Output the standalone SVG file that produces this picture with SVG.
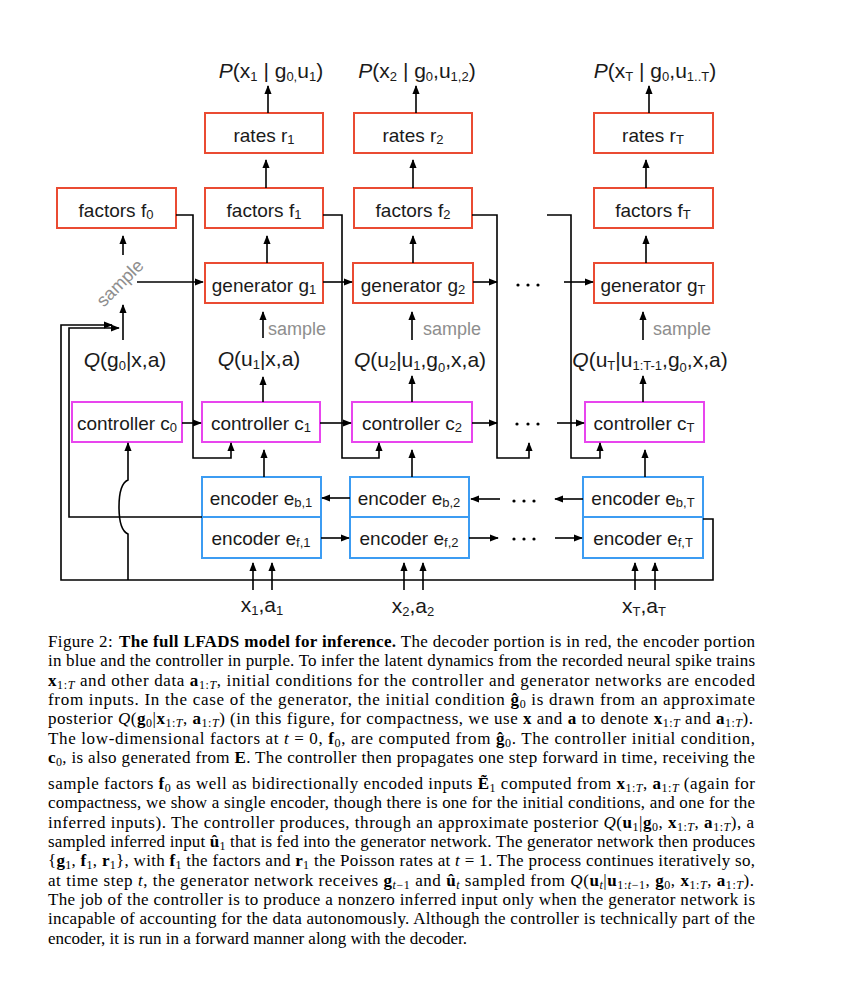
<svg xmlns="http://www.w3.org/2000/svg" width="860" height="998" viewBox="0 0 860 998">
<style>
.r{fill:#fff;stroke:#EA4B32;stroke-width:2}
.m{fill:#fff;stroke:#E845EE;stroke-width:2}
.bl{fill:#fff;stroke:#3C9CF2;stroke-width:2}
.ln{fill:none;stroke:#000;stroke-width:1.6}
.lbl{font-family:"Liberation Sans",Arial,sans-serif;font-size:19px;fill:#1a1a1a;text-anchor:middle}
.big{font-family:"Liberation Sans",Arial,sans-serif;font-size:21px;fill:#1a1a1a;text-anchor:middle}
.smp{font-family:"Liberation Sans",Arial,sans-serif;font-size:18px;fill:#8e8e8e}
.s{font-size:13px}
.it{font-style:italic}
.cap{font-family:"Liberation Serif","Times New Roman",serif;font-size:17px;fill:#000}
.b{font-weight:bold}
.cs{font-size:12px}
</style>
<defs>
<marker id="ah" viewBox="0 0 10 10" refX="9" refY="5" markerWidth="9" markerHeight="9" markerUnits="userSpaceOnUse" orient="auto"><path d="M0,1 L10,5 L0,9 z" fill="#000"/></marker>
</defs>
<rect width="860" height="998" fill="#fff"/>

<!-- top labels -->
<g id="p1"><text x="271" y="78" class="big"><tspan class="it">P</tspan>(x<tspan class="s" dy="3">1</tspan><tspan dy="-3"> | g</tspan><tspan class="s" dy="3">0,</tspan><tspan dy="-3">u</tspan><tspan class="s" dy="3">1</tspan><tspan dy="-3">)</tspan></text></g>
<g id="p2"><text x="417" y="78" class="big"><tspan class="it">P</tspan>(x<tspan class="s" dy="3">2</tspan><tspan dy="-3"> | g</tspan><tspan class="s" dy="3">0</tspan><tspan dy="-3">,u</tspan><tspan class="s" dy="3">1,2</tspan><tspan dy="-3">)</tspan></text></g>
<g id="pT"><text x="655" y="78" class="big"><tspan class="it">P</tspan>(x<tspan class="s" dy="3">T</tspan><tspan dy="-3"> | g</tspan><tspan class="s" dy="3">0</tspan><tspan dy="-3">,u</tspan><tspan class="s" dy="3">1..T</tspan><tspan dy="-3">)</tspan></text></g>

<!-- decoder boxes -->
<g id="rates1"><rect class="r" x="205" y="113" width="118" height="40"/><text x="264" y="142" class="lbl">rates r<tspan class="s" dy="2">1</tspan></text></g>
<g id="rates2"><rect class="r" x="354" y="113" width="118" height="40"/><text x="413" y="142" class="lbl">rates r<tspan class="s" dy="2">2</tspan></text></g>
<g id="ratesT"><rect class="r" x="594" y="113" width="119" height="40"/><text x="653" y="142" class="lbl">rates r<tspan class="s" dy="2">T</tspan></text></g>

<g id="factors0"><rect class="r" x="57" y="188" width="119" height="40"/><text x="116" y="217" class="lbl">factors f<tspan class="s" dy="2">0</tspan></text></g>
<g id="factors1"><rect class="r" x="205" y="188" width="118" height="40"/><text x="264" y="217" class="lbl">factors f<tspan class="s" dy="2">1</tspan></text></g>
<g id="factors2"><rect class="r" x="354" y="188" width="118" height="40"/><text x="413" y="217" class="lbl">factors f<tspan class="s" dy="2">2</tspan></text></g>
<g id="factorsT"><rect class="r" x="594" y="188" width="119" height="40"/><text x="653" y="217" class="lbl">factors f<tspan class="s" dy="2">T</tspan></text></g>

<g id="gen1"><rect class="r" x="205" y="263" width="118" height="40"/><text x="264" y="292" class="lbl">generator g<tspan class="s" dy="2">1</tspan></text></g>
<g id="gen2"><rect class="r" x="353" y="263" width="120" height="40"/><text x="413" y="292" class="lbl">generator g<tspan class="s" dy="2">2</tspan></text></g>
<g id="genT"><rect class="r" x="594" y="263" width="119" height="40"/><text x="653" y="292" class="lbl">generator g<tspan class="s" dy="2">T</tspan></text></g>

<!-- Q labels -->
<g id="q0"><text x="125" y="367" class="big"><tspan class="it">Q</tspan>(g<tspan class="s" dy="3">0</tspan><tspan dy="-3">|x,a)</tspan></text></g>
<g id="q1"><text x="259" y="366" class="big"><tspan class="it">Q</tspan>(u<tspan class="s" dy="3">1</tspan><tspan dy="-3">|x,a)</tspan></text></g>
<g id="q2"><text x="420" y="367" class="big"><tspan class="it">Q</tspan>(u<tspan class="s" dy="3">2</tspan><tspan dy="-3">|u</tspan><tspan class="s" dy="3">1</tspan><tspan dy="-3">,g</tspan><tspan class="s" dy="5">0</tspan><tspan dy="-5">,x,a)</tspan></text></g>
<g id="qT"><text x="650" y="367" class="big"><tspan class="it">Q</tspan>(u<tspan class="s" dy="3">T</tspan><tspan dy="-3">|u</tspan><tspan class="s" dy="3">1:T-1</tspan><tspan dy="-3">,g</tspan><tspan class="s" dy="5">0</tspan><tspan dy="-5">,x,a)</tspan></text></g>

<!-- sample labels -->
<g id="sample0"><text x="120" y="289" class="smp" text-anchor="middle" transform="rotate(-45 120 283)">sample</text></g>
<g id="sample1"><text x="268" y="335" class="smp">sample</text></g>
<g id="sample2"><text x="423" y="335" class="smp">sample</text></g>
<g id="sampleT"><text x="653" y="335" class="smp">sample</text></g>

<!-- controllers -->
<g id="ctrl0"><rect class="m" x="72" y="402" width="110" height="40"/><text x="127" y="430" class="lbl">controller c<tspan class="s" dy="2">0</tspan></text></g>
<g id="ctrl1"><rect class="m" x="202" y="402" width="118" height="40"/><text x="261" y="430" class="lbl">controller c<tspan class="s" dy="2">1</tspan></text></g>
<g id="ctrl2"><rect class="m" x="352" y="402" width="120" height="40"/><text x="412" y="430" class="lbl">controller c<tspan class="s" dy="2">2</tspan></text></g>
<g id="ctrlT"><rect class="m" x="585" y="402" width="119" height="40"/><text x="644" y="430" class="lbl">controller c<tspan class="s" dy="2">T</tspan></text></g>

<!-- encoders -->
<g id="encb1"><rect class="bl" x="202" y="477" width="119" height="40"/><text x="261" y="505" class="lbl">encoder e<tspan class="s" dy="2">b,1</tspan></text></g>
<g id="encf1"><rect class="bl" x="202" y="517" width="119" height="41"/><text x="261" y="545" class="lbl">encoder e<tspan class="s" dy="2">f,1</tspan></text></g>
<g id="encb2"><rect class="bl" x="350" y="477" width="119" height="40"/><text x="409" y="505" class="lbl">encoder e<tspan class="s" dy="2">b,2</tspan></text></g>
<g id="encf2"><rect class="bl" x="350" y="517" width="119" height="41"/><text x="409" y="545" class="lbl">encoder e<tspan class="s" dy="2">f,2</tspan></text></g>
<g id="encbT"><rect class="bl" x="583" y="477" width="120" height="40"/><text x="643" y="505" class="lbl">encoder e<tspan class="s" dy="2">b,T</tspan></text></g>
<g id="encfT"><rect class="bl" x="583" y="517" width="120" height="41"/><text x="643" y="545" class="lbl">encoder e<tspan class="s" dy="2">f,T</tspan></text></g>

<!-- inputs -->
<g id="in1"><text x="262" y="612" class="big">x<tspan class="s" dy="3">1</tspan><tspan dy="-3">,a</tspan><tspan class="s" dy="3">1</tspan></text></g>
<g id="in2"><text x="413" y="613" class="big">x<tspan class="s" dy="3">2</tspan><tspan dy="-3">,a</tspan><tspan class="s" dy="3">2</tspan></text></g>
<g id="inT"><text x="644" y="613" class="big">x<tspan class="s" dy="3">T</tspan><tspan dy="-3">,a</tspan><tspan class="s" dy="3">T</tspan></text></g>

<!-- connectors -->
<g id="connectors" class="ln">
<path d="M268,113 V86" marker-end="url(#ah)"/>
<path d="M416,113 V86" marker-end="url(#ah)"/>
<path d="M649,113 V86" marker-end="url(#ah)"/>
<path d="M266,188 V160" marker-end="url(#ah)"/>
<path d="M413,188 V160" marker-end="url(#ah)"/>
<path d="M646,188 V160" marker-end="url(#ah)"/>
<path d="M267,263 V236" marker-end="url(#ah)"/>
<path d="M413,263 V236" marker-end="url(#ah)"/>
<path d="M646,263 V236" marker-end="url(#ah)"/>
<path d="M123,255 V236" marker-end="url(#ah)"/>
<path d="M137,282 H203" marker-end="url(#ah)"/>
<path d="M123,340 V305" marker-end="url(#ah)"/>
<path d="M703,519 H713 V580 H61 V325 H112" marker-end="url(#ah)"/>
<path d="M202,517 H69 V328 H119" marker-end="url(#ah)"/>
<path d="M128,580 V534 C121,531 119,521 119,507 C119,493 121,483 128,480 V443" marker-end="url(#ah)"/>
<path d="M176,215 H193 V458 H231 V443" marker-end="url(#ah)"/>
<path d="M323,215 H342 V458 H379 V443" marker-end="url(#ah)"/>
<path d="M472,215 H497 V458 H529 V443" marker-end="url(#ah)"/>
<path d="M547,215 H571 V458 H600 V443" marker-end="url(#ah)"/>
<path d="M182,423 H201" marker-end="url(#ah)"/>
<path d="M320,423 H351" marker-end="url(#ah)"/>
<path d="M472,423 H497" marker-end="url(#ah)"/>
<path d="M557,423 H584" marker-end="url(#ah)"/>
<path d="M323,282 H352" marker-end="url(#ah)"/>
<path d="M473,282 H497" marker-end="url(#ah)"/>
<path d="M564,282 H593" marker-end="url(#ah)"/>
<path d="M263,402 V377" marker-end="url(#ah)"/>
<path d="M412,402 V376" marker-end="url(#ah)"/>
<path d="M643,402 V376" marker-end="url(#ah)"/>
<path d="M263,338 V312" marker-end="url(#ah)"/>
<path d="M412,340 V312" marker-end="url(#ah)"/>
<path d="M643,340 V312" marker-end="url(#ah)"/>
<path d="M264,477 V450" marker-end="url(#ah)"/>
<path d="M412,477 V450" marker-end="url(#ah)"/>
<path d="M645,477 V450" marker-end="url(#ah)"/>
<path d="M350,498 H322" marker-end="url(#ah)"/>
<path d="M500,499 H471" marker-end="url(#ah)"/>
<path d="M583,499 H555" marker-end="url(#ah)"/>
<path d="M321,538 H349" marker-end="url(#ah)"/>
<path d="M469,538 H498" marker-end="url(#ah)"/>
<path d="M555,538 H582" marker-end="url(#ah)"/>
<path d="M253,590 V563" marker-end="url(#ah)"/>
<path d="M272,590 V563" marker-end="url(#ah)"/>
<path d="M404,590 V563" marker-end="url(#ah)"/>
<path d="M423,590 V563" marker-end="url(#ah)"/>
<path d="M635,590 V563" marker-end="url(#ah)"/>
<path d="M655,590 V563" marker-end="url(#ah)"/>
</g>

<!-- ellipses -->
<g id="dots" fill="#000">
<circle cx="518" cy="285" r="1.6"/><circle cx="528" cy="285" r="1.6"/><circle cx="538" cy="285" r="1.6"/>
<circle cx="517" cy="424" r="1.6"/><circle cx="528" cy="424" r="1.6"/><circle cx="538" cy="424" r="1.6"/>
<circle cx="514" cy="501" r="1.6"/><circle cx="524" cy="501" r="1.6"/><circle cx="534" cy="501" r="1.6"/>
<circle cx="514" cy="539" r="1.6"/><circle cx="524" cy="539" r="1.6"/><circle cx="534" cy="539" r="1.6"/>
</g>

<!-- caption -->
<g id="caption" class="cap">
<text x="48" y="647" textLength="707" lengthAdjust="spacing">Figure 2:<tspan dx="6" class="b">The full LFADS model for inference.</tspan> The decoder portion is in red, the encoder portion</text>
<text x="48" y="666.3" textLength="707" lengthAdjust="spacing">in blue and the controller in purple. To infer the latent dynamics from the recorded neural spike trains</text>
<text x="48" y="685.6" textLength="707" lengthAdjust="spacing"><tspan class="b">x</tspan><tspan class="cs" dy="3">1:<tspan class="it">T</tspan></tspan><tspan dy="-3"> and other data </tspan><tspan class="b">a</tspan><tspan class="cs" dy="3">1:<tspan class="it">T</tspan></tspan><tspan dy="-3">, initial conditions for the controller and generator networks are encoded</tspan></text>
<text x="48" y="704.9" textLength="707" lengthAdjust="spacing">from inputs.  In the case of the generator, the initial condition <tspan class="b">ĝ</tspan><tspan class="cs" dy="3">0</tspan><tspan dy="-3"> is drawn from an approximate</tspan></text>
<text x="48" y="724.2" textLength="705" lengthAdjust="spacing">posterior <tspan class="it">Q</tspan>(<tspan class="b">g</tspan><tspan class="cs" dy="3">0</tspan><tspan dy="-3">|</tspan><tspan class="b">x</tspan><tspan class="cs" dy="3">1:<tspan class="it">T</tspan></tspan><tspan dy="-3">, </tspan><tspan class="b">a</tspan><tspan class="cs" dy="3">1:<tspan class="it">T</tspan></tspan><tspan dy="-3">) (in this figure, for compactness, we use </tspan><tspan class="b">x</tspan> and <tspan class="b">a</tspan> to denote <tspan class="b">x</tspan><tspan class="cs" dy="3">1:<tspan class="it">T</tspan></tspan><tspan dy="-3"> and </tspan><tspan class="b">a</tspan><tspan class="cs" dy="3">1:<tspan class="it">T</tspan></tspan><tspan dy="-3">).</tspan></text>
<text x="48" y="743.5" textLength="707" lengthAdjust="spacing">The low-dimensional factors at <tspan class="it">t</tspan> = 0, <tspan class="b">f</tspan><tspan class="cs" dy="3">0</tspan><tspan dy="-3">, are computed from </tspan><tspan class="b">ĝ</tspan><tspan class="cs" dy="3">0</tspan><tspan dy="-3">.  The controller initial condition,</tspan></text>
<text x="48" y="762.8" textLength="707" lengthAdjust="spacing"><tspan class="b">c</tspan><tspan class="cs" dy="3">0</tspan><tspan dy="-3">, is also generated from </tspan><tspan class="b">E</tspan>.  The controller then propagates one step forward in time, receiving the</text>
<text x="48" y="789.1" textLength="707" lengthAdjust="spacing">sample factors <tspan class="b">f</tspan><tspan class="cs" dy="3">0</tspan><tspan dy="-3"> as well as bidirectionally encoded inputs </tspan><tspan class="b">Ẽ</tspan><tspan class="cs" dy="3">1</tspan><tspan dy="-3"> computed from </tspan><tspan class="b">x</tspan><tspan class="cs" dy="3">1:<tspan class="it">T</tspan></tspan><tspan dy="-3">, </tspan><tspan class="b">a</tspan><tspan class="cs" dy="3">1:<tspan class="it">T</tspan></tspan><tspan dy="-3"> (again for</tspan></text>
<text x="48" y="808.4" textLength="707" lengthAdjust="spacing">compactness, we show a single encoder, though there is one for the initial conditions, and one for the</text>
<text x="48" y="827.7" textLength="706" lengthAdjust="spacing">inferred inputs). The controller produces, through an approximate posterior <tspan class="it">Q</tspan>(<tspan class="b">u</tspan><tspan class="cs" dy="3">1</tspan><tspan dy="-3">|</tspan><tspan class="b">g</tspan><tspan class="cs" dy="3">0</tspan><tspan dy="-3">, </tspan><tspan class="b">x</tspan><tspan class="cs" dy="3">1:<tspan class="it">T</tspan></tspan><tspan dy="-3">, </tspan><tspan class="b">a</tspan><tspan class="cs" dy="3">1:<tspan class="it">T</tspan></tspan><tspan dy="-3">), a</tspan></text>
<text x="48" y="847" textLength="707" lengthAdjust="spacing">sampled inferred input <tspan class="b">û</tspan><tspan class="cs" dy="3">1</tspan><tspan dy="-3"> that is fed into the generator network. The generator network then produces</tspan></text>
<text x="48" y="866.3" textLength="707" lengthAdjust="spacing">{<tspan class="b">g</tspan><tspan class="cs" dy="3">1</tspan><tspan dy="-3">, </tspan><tspan class="b">f</tspan><tspan class="cs" dy="3">1</tspan><tspan dy="-3">, </tspan><tspan class="b">r</tspan><tspan class="cs" dy="3">1</tspan><tspan dy="-3">}, with </tspan><tspan class="b">f</tspan><tspan class="cs" dy="3">1</tspan><tspan dy="-3"> the factors and </tspan><tspan class="b">r</tspan><tspan class="cs" dy="3">1</tspan><tspan dy="-3"> the Poisson rates at </tspan><tspan class="it">t</tspan> = 1. The process continues iteratively so,</text>
<text x="48" y="885.6" textLength="706" lengthAdjust="spacing">at time step <tspan class="it">t</tspan>, the generator network receives <tspan class="b">g</tspan><tspan class="cs it" dy="3">t</tspan><tspan class="cs">−1</tspan><tspan dy="-3"> and </tspan><tspan class="b">û</tspan><tspan class="cs it" dy="3">t</tspan><tspan dy="-3"> sampled from </tspan><tspan class="it">Q</tspan>(<tspan class="b">u</tspan><tspan class="cs it" dy="3">t</tspan><tspan dy="-3">|</tspan><tspan class="b">u</tspan><tspan class="cs" dy="3">1:<tspan class="it">t</tspan>−1</tspan><tspan dy="-3">, </tspan><tspan class="b">g</tspan><tspan class="cs" dy="3">0</tspan><tspan dy="-3">, </tspan><tspan class="b">x</tspan><tspan class="cs" dy="3">1:<tspan class="it">T</tspan></tspan><tspan dy="-3">, </tspan><tspan class="b">a</tspan><tspan class="cs" dy="3">1:<tspan class="it">T</tspan></tspan><tspan dy="-3">).</tspan></text>
<text x="48" y="904.9" textLength="707" lengthAdjust="spacing">The job of the controller is to produce a nonzero inferred input only when the generator network is</text>
<text x="48" y="924.2" textLength="707" lengthAdjust="spacing">incapable of accounting for the data autonomously. Although the controller is technically part of the</text>
<text x="48" y="943.5">encoder, it is run in a forward manner along with the decoder.</text>
</g>
</svg>
